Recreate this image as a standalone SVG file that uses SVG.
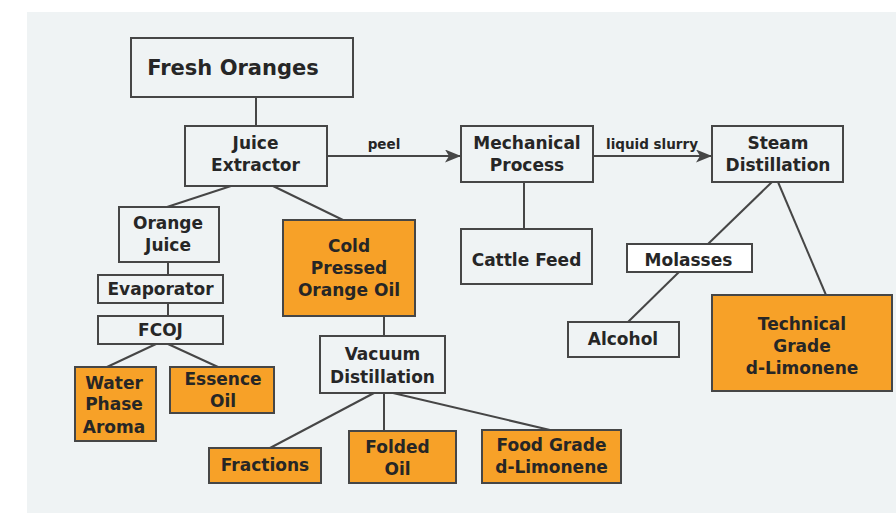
<svg xmlns="http://www.w3.org/2000/svg" width="896" height="513" viewBox="0 0 896 513">
<style>
  .box{stroke:#464646;stroke-width:2}
  .w{fill:#eff3f4}
  .wh{fill:#ffffff}
  .o{fill:#f7a128}
  .t{font-family:"DejaVu Sans","Liberation Sans",sans-serif;font-weight:bold;font-size:17px;fill:#262626;text-anchor:middle}
  .lbl{font-family:"DejaVu Sans","Liberation Sans",sans-serif;font-weight:bold;font-size:13.5px;fill:#262626;text-anchor:middle}
  .c{stroke:#464646;stroke-width:2;fill:none}
</style>
<defs>
  <marker id="ah" markerUnits="userSpaceOnUse" markerWidth="17" markerHeight="14" refX="16" refY="6.5" orient="auto">
    <path d="M0,0 L16,6.5 L0,13 L4,6.5 z" fill="#464646"/>
  </marker>
</defs>
<rect x="0" y="0" width="896" height="513" fill="#ffffff"/>
<rect x="27" y="12" width="869" height="501" fill="#eff3f4"/>

<g id="connectors">
  <line class="c" x1="256" y1="97" x2="256" y2="126"/>
  <line class="c" x1="327" y1="156" x2="461" y2="156" marker-end="url(#ah)"/>
  <line class="c" x1="593" y1="156" x2="712" y2="156" marker-end="url(#ah)"/>
  <line class="c" x1="524" y1="182" x2="524" y2="229"/>
  <line class="c" x1="772" y1="182" x2="708" y2="244"/>
  <line class="c" x1="679" y1="272" x2="628" y2="322"/>
  <line class="c" x1="778" y1="182" x2="826" y2="295"/>
  <line class="c" x1="231" y1="186" x2="167" y2="207"/>
  <line class="c" x1="273" y1="186" x2="343" y2="220"/>
  <line class="c" x1="168" y1="262" x2="168" y2="275"/>
  <line class="c" x1="168" y1="303" x2="168" y2="316"/>
  <line class="c" x1="156" y1="344" x2="107" y2="367"/>
  <line class="c" x1="168" y1="344" x2="218" y2="367"/>
  <line class="c" x1="384" y1="316" x2="384" y2="336"/>
  <line class="c" x1="374" y1="393" x2="270" y2="448"/>
  <line class="c" x1="384" y1="393" x2="384" y2="431"/>
  <line class="c" x1="393" y1="393" x2="550" y2="430"/>
  <text class="lbl" x="384" y="149">peel</text>
  <text class="lbl" x="652" y="149">liquid slurry</text>
</g>

<g id="fresh-oranges">
  <rect class="box w" x="131" y="38" width="222" height="59"/>
  <text class="t" x="233" y="75" style="font-size:21px">Fresh Oranges</text>
</g>
<g id="juice-extractor">
  <rect class="box w" x="185" y="126" width="142" height="60"/>
  <text class="t" x="255.5" y="149">Juice</text>
  <text class="t" x="255.5" y="171">Extractor</text>
</g>
<g id="mechanical-process">
  <rect class="box w" x="461" y="126" width="132" height="56"/>
  <text class="t" x="527" y="149">Mechanical</text>
  <text class="t" x="527" y="171">Process</text>
</g>
<g id="steam-distillation">
  <rect class="box w" x="712" y="126" width="131" height="56"/>
  <text class="t" x="778" y="149">Steam</text>
  <text class="t" x="778" y="171">Distillation</text>
</g>
<g id="cattle-feed">
  <rect class="box w" x="461" y="229" width="131" height="55"/>
  <text class="t" x="526.5" y="266">Cattle Feed</text>
</g>
<g id="molasses">
  <rect class="box wh" x="627" y="244" width="125" height="28"/>
  <text class="t" x="688.5" y="266">Molasses</text>
</g>
<g id="alcohol">
  <rect class="box w" x="568" y="322" width="111" height="35"/>
  <text class="t" x="623" y="345">Alcohol</text>
</g>
<g id="technical-grade">
  <rect class="box o" x="712" y="295" width="180" height="96"/>
  <text class="t" x="802" y="330">Technical</text>
  <text class="t" x="802" y="352">Grade</text>
  <text class="t" x="802" y="374">d-Limonene</text>
</g>
<g id="orange-juice">
  <rect class="box w" x="119" y="207" width="100" height="55"/>
  <text class="t" x="168" y="229">Orange</text>
  <text class="t" x="168" y="251">Juice</text>
</g>
<g id="evaporator">
  <rect class="box w" x="98" y="275" width="125" height="28"/>
  <text class="t" x="160.5" y="295">Evaporator</text>
</g>
<g id="fcoj">
  <rect class="box w" x="98" y="316" width="125" height="28"/>
  <text class="t" x="160.5" y="336">FCOJ</text>
</g>
<g id="water-phase-aroma">
  <rect class="box o" x="75" y="367" width="81" height="74"/>
  <text class="t" x="114" y="388.5">Water</text>
  <text class="t" x="114" y="410">Phase</text>
  <text class="t" x="114" y="432.5">Aroma</text>
</g>
<g id="essence-oil">
  <rect class="box o" x="170" y="367" width="104" height="46"/>
  <text class="t" x="223" y="385">Essence</text>
  <text class="t" x="223" y="406.5">Oil</text>
</g>
<g id="cold-pressed">
  <rect class="box o" x="283" y="220" width="132" height="96"/>
  <text class="t" x="349" y="251.5">Cold</text>
  <text class="t" x="349" y="273.5">Pressed</text>
  <text class="t" x="349" y="295.5">Orange Oil</text>
</g>
<g id="vacuum-distillation">
  <rect class="box w" x="320" y="336" width="125" height="57"/>
  <text class="t" x="382.5" y="360">Vacuum</text>
  <text class="t" x="382.5" y="382.5">Distillation</text>
</g>
<g id="fractions">
  <rect class="box o" x="209" y="448" width="112" height="35"/>
  <text class="t" x="265" y="471">Fractions</text>
</g>
<g id="folded-oil">
  <rect class="box o" x="349" y="431" width="107" height="52"/>
  <text class="t" x="397.5" y="453">Folded</text>
  <text class="t" x="397.5" y="475">Oil</text>
</g>
<g id="food-grade">
  <rect class="box o" x="482" y="430" width="139" height="53"/>
  <text class="t" x="551.5" y="451">Food Grade</text>
  <text class="t" x="551.5" y="473">d-Limonene</text>
</g>
</svg>
